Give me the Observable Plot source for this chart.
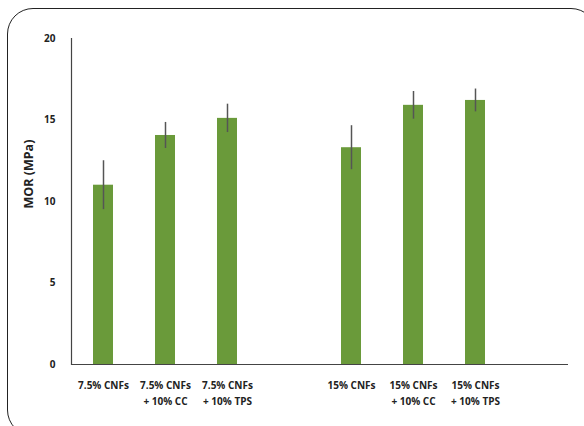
<!DOCTYPE html>
<html>
<head>
<meta charset="utf-8">
<script src="https://cdn.jsdelivr.net/npm/d3@7"></script>
<script src="https://cdn.jsdelivr.net/npm/@observablehq/plot@0.6"></script>
<style>
  html, body { margin: 0; padding: 0; background: #fff; overflow: hidden; width: 584px; height: 426px; }
  #wrap { position: relative; width: 584px; height: 426px; }
  #frame { position: absolute; left: 7px; top: 8px; width: 590px; height: 428px; border: 1.5px solid #222; border-radius: 26px; box-sizing: border-box; pointer-events: none; }
  #chart { position: absolute; left: 0; top: 0; }
</style>
</head>
<body>
<div id="wrap"><div id="chart"></div><div id="frame"></div></div>
<script>
const categories = ["7.5% CNFs", "7.5% CNFs\n+ 10% CC", "7.5% CNFs\n+ 10% TPS", " ", "15% CNFs", "15% CNFs\n+ 10% CC", "15% CNFs\n+ 10% TPS", "  "];
const barCategories = ["7.5% CNFs", "7.5% CNFs\n+ 10% CC", "7.5% CNFs\n+ 10% TPS", "15% CNFs", "15% CNFs\n+ 10% CC", "15% CNFs\n+ 10% TPS"];
const mor = [11.0, 14.05, 15.1, 13.3, 15.9, 16.2];
const errors = [1.5, 0.8, 0.87, 1.35, 0.85, 0.7];
const yTicks = [0, 5, 10, 15, 20];
const yLabel = "MOR (MPa)";

const data = barCategories.map((c, i) => ({cat: c, v: mor[i], lo: mor[i] - errors[i], hi: mor[i] + errors[i]}));
const font = "'Open Sans', Lato, sans-serif";

const plot = Plot.plot({
  width: 584,
  height: 426,
  marginLeft: 71,
  marginRight: 16,
  marginTop: 38,
  marginBottom: 62,
  style: {fontFamily: font, fontWeight: 700, fontSize: "10px", color: "#222", background: "transparent"},
  x: {domain: categories, paddingInner: 0.68, paddingOuter: 0.34, align: 0.5},
  y: {domain: [0, 20], ticks: yTicks},
  marks: [
    Plot.barY(data, {x: "cat", y: "v", fill: "#6A9A3A"}),
    Plot.ruleX(data, {x: "cat", y1: "lo", y2: "hi", stroke: "#555", strokeWidth: 1.5}),
    Plot.ruleY([0], {stroke: "#444", strokeWidth: 1.2}),
    Plot.frame({anchor: "left", stroke: "#444", strokeWidth: 1.2}),
    Plot.axisY({ticks: yTicks, tickSize: 0, tickPadding: 16, label: null, fontWeight: 700, fontSize: 10}),
    Plot.text([yLabel], {frameAnchor: "left", rotate: -90, dx: -43, dy: 7, fontSize: 12.5, fontWeight: 700, fill: "#222"}),
    Plot.axisX({tickSize: 0, tickPadding: 13, label: null, lineHeight: 1.6, fontWeight: 700, fontSize: 10})
  ]
});
document.getElementById("chart").appendChild(plot);
</script>
</body>
</html>
